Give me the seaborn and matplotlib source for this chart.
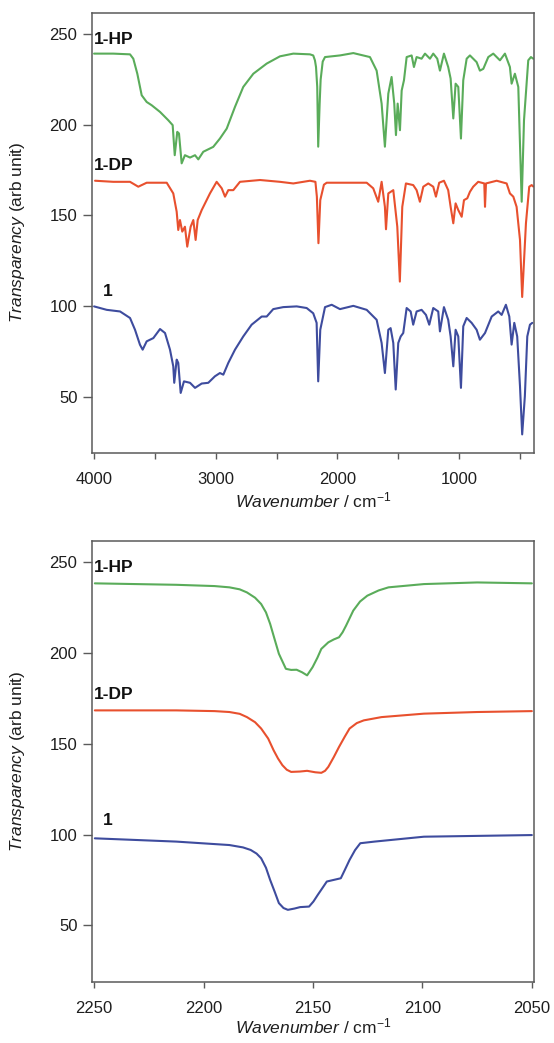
import numpy as np
import pandas as pd
import matplotlib
matplotlib.use("Agg")
import matplotlib.pyplot as plt
import matplotlib.transforms as mtransforms
from matplotlib.ticker import FixedLocator
import seaborn as sns

# ---------------- data: full-range IR spectra (top panel) ----------------
hp_wn = [4002, 3844, 3706, 3679, 3646, 3610, 3569, 3528, 3459, 3391, 3355, 3338, 3317, 3303, 3281,
         3254, 3212, 3171, 3144, 3103, 3021, 2966, 2910, 2842, 2774, 2691, 2581, 2472, 2362, 2225,
         2198, 2184, 2175, 2165, 2157, 2145, 2137, 2120, 2101, 1978, 1868, 1731, 1676, 1635, 1608,
         1580, 1553, 1531, 1517, 1503, 1484, 1470, 1451, 1429, 1388, 1369, 1347, 1306, 1278, 1237,
         1210, 1177, 1155, 1122, 1087, 1067, 1045, 1026, 1004, 982, 963, 935, 908, 853, 826,
         798, 757, 716, 661, 620, 579, 565, 538, 510, 482, 463, 428, 406, 387]
hp_t = [239.4, 239.4, 239.0, 236.6, 228.3, 216.4, 212.7, 210.9, 207.2, 202.6, 199.9, 183.3, 196.2, 195.3, 178.8,
        183.3, 182.0, 183.3, 181.0, 185.2, 187.9, 192.5, 198.0, 210.0, 221.0, 228.3, 233.9, 237.9, 239.4, 239.0,
        238.4, 235.7, 232.0, 221.0, 188.0, 212.0, 225.0, 235.0, 237.5, 238.4, 239.7, 237.5, 230.0, 211.8, 188.0,
        217.3, 226.5, 211.8, 194.4, 211.8, 197.1, 219.0, 224.7, 237.5, 238.4, 232.0, 237.5, 236.6, 239.4, 236.6,
        239.4, 236.6, 230.0, 239.4, 232.0, 225.6, 203.6, 222.8, 221.0, 192.5, 224.7, 236.6, 238.4, 234.7, 230.0,
        231.0, 237.5, 239.4, 235.7, 239.4, 232.0, 222.8, 228.3, 221.0, 157.6, 202.6, 235.7, 237.5, 236.6]

dp_wn = [3994, 3844, 3706, 3638, 3569, 3404, 3350, 3322, 3309, 3295, 3276, 3254, 3235, 3207, 3185,
         3166, 3149, 3116, 3048, 2993, 2951, 2924, 2897, 2856, 2801, 2636, 2472, 2362, 2225, 2180,
         2168, 2155, 2140, 2110, 2087, 1758, 1704, 1663, 1635, 1608, 1599, 1580, 1539, 1506, 1485,
         1465, 1435, 1375, 1347, 1320, 1292, 1251, 1210, 1188, 1161, 1122, 1087, 1067, 1045, 1026,
         1004, 976, 957, 930, 908, 881, 840, 790, 784, 776, 688, 606, 579, 551, 524,
         496, 478, 447, 420, 400, 387]
dp_t = [169.2, 168.6, 168.6, 165.9, 168.1, 168.1, 162.2, 152.1, 142.0, 147.5, 141.1, 143.8, 132.8, 143.8, 147.5,
        136.5, 147.5, 153.0, 162.2, 168.6, 165.0, 160.4, 164.0, 164.0, 168.6, 169.6, 168.6, 167.7, 169.2, 168.6,
        160.4, 134.7, 158.5, 167.0, 168.1, 168.1, 165.0, 157.6, 168.6, 154.8, 142.4, 162.2, 164.0, 143.8, 113.5,
        154.8, 167.7, 166.8, 164.0, 157.6, 165.9, 167.7, 165.9, 160.4, 168.1, 169.2, 164.0, 154.8, 145.7, 156.7,
        153.0, 149.3, 158.5, 159.5, 163.1, 165.9, 168.6, 167.7, 154.8, 167.7, 169.2, 167.7, 162.2, 160.4, 154.8,
        136.5, 105.0, 145.7, 165.9, 166.8, 166.0]

p1_wn = [4002, 3898, 3788, 3706, 3665, 3624, 3602, 3569, 3514, 3459, 3418, 3377, 3350, 3342, 3322,
         3309, 3289, 3262, 3212, 3171, 3116, 3062, 3007, 2966, 2938, 2897, 2842, 2774, 2705, 2622,
         2581, 2527, 2445, 2334, 2252, 2198, 2170, 2157, 2140, 2101, 2046, 1978, 1868, 1758, 1676,
         1635, 1608, 1580, 1561, 1539, 1519, 1498, 1478, 1457, 1429, 1396, 1375, 1347, 1306, 1270,
         1243, 1210, 1169, 1155, 1122, 1087, 1067, 1045, 1026, 1004, 982, 963, 935, 894, 853,
         826, 784, 729, 675, 647, 612, 584, 565, 543, 519, 496, 478, 456, 436, 414, 395]
p1_t = [99.8, 97.9, 97.0, 93.4, 86.9, 78.6, 75.9, 80.5, 82.3, 87.3, 85.1, 75.9, 66.7, 57.6, 70.4,
        68.6, 52.0, 58.4, 57.6, 54.8, 57.2, 57.6, 61.2, 63.0, 62.1, 68.6, 75.9, 83.2, 89.7, 94.2,
        94.2, 98.3, 99.4, 99.8, 98.9, 96.0, 90.7, 58.4, 86.9, 99.4, 100.7, 98.3, 100.1, 97.9, 92.4,
        79.6, 63.0, 86.9, 87.8, 79.6, 53.9, 79.6, 83.2, 85.1, 98.9, 97.0, 89.7, 97.0, 97.9, 95.1,
        89.7, 98.9, 97.0, 86.0, 99.4, 92.4, 83.2, 66.7, 86.9, 83.2, 54.8, 88.8, 93.4, 90.7, 86.9,
        81.4, 85.1, 94.2, 97.0, 95.1, 100.7, 94.2, 78.7, 90.7, 83.2, 55.7, 29.1, 50.2, 83.2, 89.7, 90.7]

# ---------------- data: CN-stretch region (bottom panel) ----------------
zhp_wn = [2249.7, 2212.5, 2195.0, 2188.2, 2183.5, 2180.2, 2176.5, 2173.7, 2171.5, 2169.6, 2167.5, 2165.6,
          2162.4, 2160.0, 2157.5, 2155.0, 2152.7, 2150.2, 2148.0, 2146.2, 2143.0, 2140.5, 2138.1, 2136.5,
          2134.9, 2131.6, 2128.5, 2125.2, 2120.0, 2115.5, 2099.3, 2075.0, 2050.0]
zhp_t = [238.5, 237.7, 237.0, 236.3, 235.2, 233.5, 230.6, 227.1, 222.5, 216.2, 207.5, 199.7,
         191.4, 190.8, 190.9, 189.5, 187.8, 192.3, 197.5, 202.4, 206.0, 207.6, 208.8, 211.5,
         215.2, 223.5, 228.5, 231.7, 234.6, 236.3, 238.1, 239.0, 238.5]

zdp_wn = [2249.7, 2212.5, 2195.0, 2188.2, 2183.5, 2180.2, 2176.5, 2173.7, 2170.5, 2168.0, 2166.0, 2164.0,
          2162.0, 2160.0, 2156.0, 2152.7, 2149.0, 2146.2, 2144.5, 2143.0, 2140.5, 2138.1, 2135.5,
          2133.3, 2130.0, 2126.8, 2118.7, 2099.3, 2075.0, 2050.0]
zdp_t = [168.5, 168.5, 168.1, 167.6, 166.6, 164.8, 162.0, 158.5, 153.0, 146.5, 142.0, 138.3,
         135.8, 134.6, 134.8, 135.2, 134.4, 134.1, 135.2, 137.4, 142.8, 148.4, 154.0,
         158.5, 161.5, 163.0, 164.8, 166.7, 167.6, 168.1]

zp1_wn = [2249.7, 2212.5, 2188.2, 2182.0, 2178.5, 2175.8, 2173.7, 2171.5, 2169.6, 2167.5, 2165.6, 2163.5,
          2161.5, 2158.5, 2155.9, 2151.8, 2149.8, 2147.8, 2145.6, 2143.7, 2140.5, 2137.3, 2135.5,
          2133.3, 2130.8, 2128.4, 2121.9, 2099.3, 2050.0]
zp1_t = [98.0, 96.2, 94.3, 93.0, 91.6, 89.6, 87.0, 81.8, 75.1, 68.5, 62.3, 59.6,
         58.6, 59.3, 60.1, 60.4, 63.2, 66.9, 70.8, 74.2, 75.1, 76.0, 80.5,
         86.1, 91.5, 95.3, 96.2, 98.9, 99.8]

labels = ["1-HP", "1-DP", "1"]
label_y = [247, 177.5, 108]
colors = ["#5aac5a", "#e8502e", "#3e4c9e"]

# ---------------- styling ----------------
sns.set_theme(style="white")
plt.rcParams['font.family'] = ['Liberation Sans', 'DejaVu Sans']
plt.rcParams['mathtext.fontset'] = 'custom'
plt.rcParams['mathtext.rm'] = 'Liberation Sans'
plt.rcParams['mathtext.it'] = 'Liberation Sans:italic'
plt.rcParams['mathtext.bf'] = 'Liberation Sans:bold'

W, H = 554, 1043
fig = plt.figure(figsize=(W / 100, H / 100), dpi=100)
ax1 = fig.add_axes([92 / W, 1 - 452.7 / H, 441.6 / W, 440 / H])
ax2 = fig.add_axes([92 / W, 1 - 981.7 / H, 441.6 / W, 441 / H])

frame_col = "#5a5a5a"
txt_col = "#1e1e1e"

top_sets = [(hp_wn, hp_t), (dp_wn, dp_t), (p1_wn, p1_t)]
bot_sets = [(zhp_wn, zhp_t), (zdp_wn, zdp_t), (zp1_wn, zp1_t)]

for ax, sets in ((ax1, top_sets), (ax2, bot_sets)):
    for (wn, t), col, lab, ly in zip(sets, colors, labels, label_y):
        df = pd.DataFrame({"wn": wn, "t": t})
        sns.lineplot(data=df, x="wn", y="t", ax=ax, color=col, lw=1.5, sort=False,
                     estimator=None)
        trans = mtransforms.blended_transform_factory(ax.transAxes, ax.transData)
        lx = 0.025 if lab == "1" else 0.004
        ax.text(lx, ly, lab, transform=trans, fontsize=12.5, fontweight="bold",
                ha="left", va="center", color="#111111")
    ax.set_ylim(19, 262)
    ax.yaxis.set_major_locator(FixedLocator([50, 100, 150, 200, 250]))
    for sp in ax.spines.values():
        sp.set_color(frame_col)
        sp.set_linewidth(1.1)
        sp.set_visible(True)
    ax.tick_params(axis="y", which="major", left=True, direction="out", length=6.5, width=1,
                   color=frame_col, pad=4, labelsize=12, labelcolor=txt_col)
    ax.tick_params(axis="x", which="major", bottom=True, direction="out", length=4, width=1,
                   color=frame_col, pad=10, labelsize=12, labelcolor=txt_col)
    ax.tick_params(axis="x", which="minor", bottom=True, direction="out", length=4, width=1,
                   color=frame_col)
    ax.set_ylabel(r"$\mathit{Transparency}$ (arb unit)", fontsize=12.5, color=txt_col)
    ax.set_xlabel(r"$\mathit{Wavenumber}$ / cm$^{-1}$", fontsize=12.5, color=txt_col)
    ax.yaxis.set_label_coords(-0.148, 0.5)
    ax.grid(False)

ax1.set_xlim(4019, 384)
ax1.xaxis.set_major_locator(FixedLocator([4000, 3000, 2000, 1000]))
ax1.xaxis.set_minor_locator(FixedLocator([3500, 2500, 1500, 500]))
ax1.xaxis.set_label_coords(0.5, -0.085)

ax2.set_xlim(2251, 2049.2)
ax2.xaxis.set_major_locator(FixedLocator([2250, 2200, 2150, 2100, 2050]))
ax2.xaxis.set_label_coords(0.5, -0.08)

fig.savefig("out.png", dpi=100)
